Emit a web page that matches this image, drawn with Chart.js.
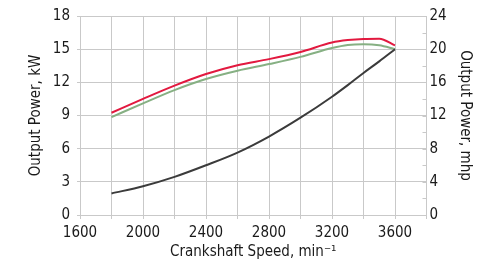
<!DOCTYPE html>
<html>
<head>
<meta charset="utf-8">
<script src="https://cdn.jsdelivr.net/npm/chart.js@4/dist/chart.umd.min.js"></script>
<style>
  html, body { margin: 0; padding: 0; background: #fff; }
  #wrap { width: 495px; height: 272px; position: relative; }
</style>
</head>
<body>
<div id="wrap"><canvas id="powerChart"></canvas></div>
<script>
// crankshaft speed, min-1
const speeds = [1800, 2000, 2200, 2400, 2600, 2800, 3000, 3200, 3300, 3400, 3500, 3600];
// output power curves (kW)
const redCurve   = [9.25, 10.5, 11.7, 12.75, 13.55, 14.1, 14.75, 15.6, 15.82, 15.93, 15.95, 15.35];
const greenCurve = [8.85, 10.1, 11.3, 12.3, 13.05, 13.65, 14.3, 15.1, 15.38, 15.45, 15.35, 15.0];
const darkCurve  = [1.95, 2.6, 3.45, 4.5, 5.65, 7.1, 8.8, 10.7, 11.75, 12.85, 13.9, 15.0];

const xTickLabels = [1600, 2000, 2400, 2800, 3200, 3600];
const kwTickLabels = [0, 3, 6, 9, 12, 15, 18];
const mhpTickLabels = [0, 4, 8, 12, 16, 20, 24];

const FONT = "'DejaVu Sans Condensed', 'Liberation Sans', sans-serif";
const GRID = '#c9c9c9';
const TEXT = '#1a1a1a';

function toPoints(vals) {
    return speeds.map((s, i) => ({ x: s, y: vals[i] }));
}

function makeLine(vals, color) {
    return {
        data: toPoints(vals),
        borderColor: color,
        borderWidth: 2,
        pointRadius: 0,
        fill: false,
        cubicInterpolationMode: 'monotone'
    };
}

// short tick marks drawn on the inner side of the right axis
const innerTicks = {
    id: 'innerTicks',
    afterDraw(chart) {
        const sc = chart.scales.yR;
        const ctx = chart.ctx;
        ctx.save();
        ctx.strokeStyle = GRID;
        ctx.lineWidth = 1;
        sc.ticks.forEach(t => {
            const y = Math.round(sc.getPixelForValue(t.value)) + 0.5;
            ctx.beginPath();
            ctx.moveTo(sc.left - 4, y);
            ctx.lineTo(sc.left, y);
            ctx.stroke();
        });
        ctx.restore();
    }
};

document.addEventListener('DOMContentLoaded', () => {
    const ctx = document.getElementById('powerChart').getContext('2d');
    new Chart(ctx, {
        type: 'line',
        data: {
            datasets: [
                makeLine(darkCurve, '#3b3b3b'),
                makeLine(greenCurve, '#86b083'),
                makeLine(redCurve, '#e2193f')
            ]
        },
        options: {
            responsive: true,
            maintainAspectRatio: false,
            animation: false,
            layout: { padding: { top: 12, left: 0, right: 0, bottom: 0 } },
            plugins: { legend: { display: false }, tooltip: { enabled: false } },
            scales: {
                x: {
                    type: 'linear',
                    min: 1600,
                    max: 3800,
                    afterBuildTicks: (sc) => {
                        sc.ticks = [];
                        for (let v = 1600; v <= 3800; v += 200) sc.ticks.push({ value: v });
                    },
                    afterFit: (sc) => { sc.height = 57; },
                    grid: { color: GRID, lineWidth: 1, tickLength: 4 },
                    border: { color: GRID },
                    ticks: {
                        autoSkip: false,
                        maxRotation: 0,
                        padding: 5,
                        color: TEXT,
                        font: { family: FONT, size: 15 },
                        callback: (v) => xTickLabels.includes(v) ? String(v) : ''
                    },
                    title: {
                        display: true,
                        text: 'Crankshaft Speed, min\u207B\u00B9',
                        color: TEXT,
                        font: { family: FONT, size: 15 },
                        padding: { top: 0, bottom: 11 }
                    }
                },
                y: {
                    position: 'left',
                    min: 0,
                    max: 18,
                    afterBuildTicks: (sc) => { sc.ticks = kwTickLabels.map(v => ({ value: v })); },
                    afterFit: (sc) => { sc.width = 80; },
                    grid: { color: GRID, lineWidth: 1, tickLength: 3 },
                    border: { color: GRID },
                    ticks: {
                        padding: 7,
                        color: TEXT,
                        font: { family: FONT, size: 15 }
                    },
                    title: {
                        display: true,
                        text: 'Output Power, kW',
                        color: TEXT,
                        font: { family: FONT, size: 15 },
                        padding: { top: 27, bottom: 0 }
                    }
                },
                yR: {
                    position: 'right',
                    min: 0,
                    max: 24,
                    afterBuildTicks: (sc) => {
                        sc.ticks = [];
                        for (let v = 0; v <= 24; v += 2) sc.ticks.push({ value: v });
                    },
                    afterFit: (sc) => { sc.width = 68.5; },
                    grid: { drawOnChartArea: false, drawTicks: false },
                    border: { color: GRID },
                    ticks: {
                        autoSkip: false,
                        padding: 3,
                        color: TEXT,
                        font: { family: FONT, size: 15 },
                        callback: (v) => mhpTickLabels.includes(v) ? String(v) : ''
                    },
                    title: {
                        display: true,
                        text: 'Output Power, mhp',
                        color: TEXT,
                        font: { family: FONT, size: 15 },
                        padding: { top: 21, bottom: 0 }
                    }
                }
            }
        },
        plugins: [innerTicks]
    });
});
</script>
</body>
</html>
